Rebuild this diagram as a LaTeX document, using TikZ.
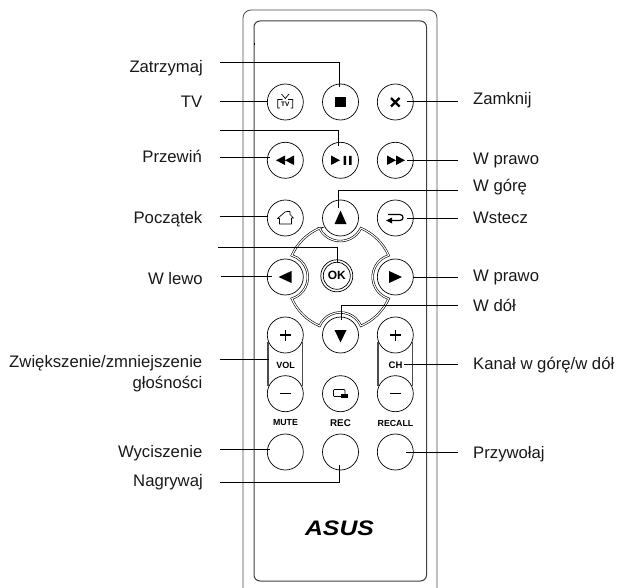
\documentclass[tikz,border=0pt]{standalone}
\usepackage{fontspec}
\setmainfont{Liberation Sans}
\usetikzlibrary{calc}
\tikzset{
  btn/.style={circle,draw=black,line width=.7pt,minimum size=36pt,inner sep=0pt,fill=white},
  lbl/.style={inner sep=0pt,font=\fontsize{16.7}{19}\selectfont,text=black!90},
  lleft/.style={lbl,anchor=base east},
  lright/.style={lbl,anchor=base west},
  lead/.style={draw=black,line width=.75pt},
  body/.style={draw=black!70,line width=.8pt},
  inn/.style={draw=black!75,line width=1pt},
  captxt/.style={inner sep=0pt,font=\bfseries\fontsize{8.8}{9}\selectfont},
  ico/.style={fill=black,draw=none},
  icol/.style={draw=black,line width=.7pt}
}
\begin{document}
\begin{tikzpicture}[x=1pt,y=-1pt]
\useasboundingbox (0,0) rectangle (618,588);
\fill[white] (0,0) rectangle (618,588);
% body
\draw[body,rounded corners=8pt] (243,600) -- (243,10) -- (437,10) -- (437,600);
\draw[inn,rounded corners=6pt] (254,21) rectangle (426.5,581);
\fill[black] (253.5,43.5) rectangle (255,45);
% d-pad
\begin{scope}[shift={(340.2,277)},y=1pt]
\draw[draw=black,line width=.6pt,double=white,double distance=1.1pt,fill=white]
 (-20.7,48.8) arc[start angle=206.2,end angle=333.8,radius=23.1]
 arc[start angle=67,end angle=24,radius=53]
 arc[start angle=107,end angle=253,radius=22.6]
 arc[start angle=-24,end angle=-67,radius=53]
 arc[start angle=24,end angle=156,radius=22.65]
 arc[start angle=-113,end angle=-156,radius=53]
 arc[start angle=-73,end angle=73,radius=22.6]
 arc[start angle=156,end angle=113,radius=53] -- cycle;
\end{scope}
% capsules
\draw[draw=black!70,line width=1.3pt] (268,342) -- (268,386) (302.6,342) -- (302.6,386);
\draw[draw=black!70,line width=1.3pt] (378,342) -- (378,386) (412.6,342) -- (412.6,386);
% buttons
\node[btn] (tv) at (285.3,102) {};
\node[btn] (stop) at (340.5,102) {};
\node[btn] (close) at (395.3,102) {};
\node[btn] (rew) at (285.3,160.3) {};
\node[btn] (play) at (340.5,160.3) {};
\node[btn] (ff) at (395.3,160.3) {};
\node[btn] (home) at (285.3,218) {};
\node[btn] (up) at (340.5,218) {};
\node[btn] (back) at (395.3,218) {};
\node[btn] (left) at (285.3,277) {};
\node[btn] (right) at (395.3,277) {};
\node[btn] (down) at (340.5,335) {};
\node[btn] (volp) at (285.3,335) {};
\node[btn] (volm) at (285.3,393.7) {};
\node[btn] (chp) at (395.3,335) {};
\node[btn] (chm) at (395.3,393.7) {};
\node[btn] (pip) at (340.5,393.7) {};
\node[btn] (mute) at (285.3,452) {};
\node[btn] (rec) at (340.5,452) {};
\node[btn] (recall) at (395.3,452) {};
\node[circle,draw=black,line width=.7pt,minimum size=32pt,inner sep=0pt,fill=white] (ok) at (336.8,275.8) {};
\node[circle,draw=black,line width=.7pt,minimum size=27pt,inner sep=0pt] at (ok) {};
% icons
\fill[ico] (335.2,96.7) rectangle (345.8,107.3);
\draw[line width=2.3pt] (391,98) -- (399.6,106.5) (399.6,98) -- (391,106.5);
% tv icon
\draw[icol,line width=.7pt] (280,99.5) -- (277.8,99.5) -- (277.8,108) -- (280,108)
  (290.6,99.5) -- (292.8,99.5) -- (292.8,108) -- (290.6,108)
  (280,99.5) -- (282.5,99.5) (288,99.5) -- (290.6,99.5)
  (281.5,94) -- (285.3,98.5) -- (289,94);
\node[inner sep=0pt,font=\bfseries\fontsize{6.5}{6.5}\selectfont] (tvtxt) at (285.3,104) {TV};
% rewind etc
\fill[ico] (276,160.3) -- (285,155.5) -- (285,165) -- cycle (285,160.3) -- (294,155.5) -- (294,165) -- cycle;
\fill[ico] (405,160.3) -- (396,155.5) -- (396,165) -- cycle (396,160.3) -- (387,155.5) -- (387,165) -- cycle;
\fill[ico] (331,155.5) -- (340,160.3) -- (331,165) -- cycle;
\fill[ico] (343.5,156) rectangle (346,165) (349,156) rectangle (351.5,165);
% home
\draw[icol,line join=round] (279.5,218.5) -- (279.5,224) -- (291.5,224) -- (291.5,218) -- (293.5,218) -- (290,214.5) -- (290,211.5) -- (287.5,211.5) -- (285,212) -- (277.5,218.5) -- cycle;
% return
\draw[icol,line width=1.2pt] (388,214.5) -- (400,214.5) .. controls (404,214.5) and (404,220.5) .. (400,220.5) -- (390,220.5);
\fill[ico] (386,220.5) -- (392,217.5) -- (392,223.5) -- cycle;
% triangles
\fill[ico] (340.5,210.5) -- (334.5,224) -- (346.5,224) -- cycle;
\fill[ico] (278.5,277) -- (291.5,271) -- (291.5,283) -- cycle;
\fill[ico] (402,277) -- (389,271) -- (389,283) -- cycle;
\fill[ico] (340.5,342.5) -- (334.5,330) -- (346.5,330) -- cycle;
\node[inner sep=0pt,font=\bfseries\fontsize{12}{12}\selectfont] (oktxt) at (ok) {OK};
% plus minus
\foreach \cx in {285.3,395.3}{
  \draw[line width=1.3pt] (\cx-5.5,335) -- (\cx+5.5,335) (\cx,329.5) -- (\cx,340.5);
  \draw[line width=1.3pt] (\cx-5.5,393.7) -- (\cx+5.5,393.7);
}
\node[captxt,font=\bfseries\fontsize{9}{9}\selectfont] (vol) at (285.5,365) {VOL};
\node[captxt,font=\bfseries\fontsize{9.5}{9}\selectfont] (ch) at (395.5,365) {CH};
% pip
\draw[icol,rounded corners=.8pt] (333.5,389.5) rectangle (345,396.5);
\fill[ico] (341,394.2) rectangle (348,398);
\node[captxt] (mutet) at (285.5,423) {MUTE};
\node[captxt,font=\bfseries\fontsize{9.8}{9}\selectfont] (rect) at (340.5,423) {REC};
\node[captxt] (recallt) at (395.5,423) {RECALL};
% logo
\node[inner sep=0pt,font=\bfseries\itshape\fontsize{21}{21}\selectfont,xscale=1.18] (asus) at (339.5,528.5) {ASUS};
% labels
\node[lleft] (lz) at (203,73) {Zatrzymaj};
\node[lleft] (ltv) at (202.5,108) {TV};
\node[lleft] (lp) at (202,163) {Przewiń};
\node[lleft] (lpo) at (202.5,223) {Początek};
\node[lleft] (ll) at (203,284) {W lewo};
\node[lleft] (lzw) at (202.5,367) {Zwiększenie/zmniejszenie};
\node[lleft] (lzw2) at (202.5,388) {głośności};
\node[lleft] (lw) at (202.5,457) {Wyciszenie};
\node[lleft] (ln) at (203,486) {Nagrywaj};
\node[lright] (rz) at (473,105) {Zamknij};
\node[lright] (rp) at (473,165) {W prawo};
\node[lright] (rg) at (473,192) {W górę};
\node[lright] (rw) at (473,223) {Wstecz};
\node[lright] (rp2) at (473,281) {W prawo};
\node[lright] (rd) at (473,311) {W dół};
\node[lright] (rk) at (473,369) {Kanał w górę/w dół};
\node[lright] (rpr) at (473,458) {Przywołaj};
% leaders
\coordinate (a1) at (219.5,62.3); \coordinate (b1) at (339.5,87);
\draw[lead] (a1) -- (a1-|b1) -- (b1);
\coordinate (a2) at (219.5,101.8); \coordinate (b2) at (268,101.8);
\draw[lead] (a2) -- (b2);
\coordinate (a3) at (219.5,130); \coordinate (b3) at (338.3,146.5);
\draw[lead] (a3) -- (a3-|b3) -- (b3);
\coordinate (a4) at (219.5,157); \coordinate (b4) at (270,157);
\draw[lead] (a4) -- (b4);
\coordinate (a5) at (219.5,216.5); \coordinate (b5) at (268,216.5);
\draw[lead] (a5) -- (b5);
\coordinate (a6) at (218,247.5); \coordinate (b6) at (337,263);
\draw[lead] (a6) -- (a6-|b6) -- (b6);
\coordinate (a7) at (220.5,276.8); \coordinate (b7) at (272,276.8);
\draw[lead] (a7) -- (b7);
\coordinate (a8) at (219.5,359.5); \coordinate (b8) at (269,359.5);
\draw[lead] (a8) -- (b8);
\coordinate (a9) at (219.5,449.5); \coordinate (b9) at (270,449.5);
\draw[lead] (a9) -- (b9);
\coordinate (a10) at (219.5,482.5); \coordinate (b10) at (339,465);
\draw[lead] (a10) -- (a10-|b10) -- (b10);
\coordinate (c1) at (458,101); \coordinate (d1) at (406.5,101);
\draw[lead] (c1) -- (d1);
\coordinate (c2) at (458,160.7); \coordinate (d2) at (406.5,160.7);
\draw[lead] (c2) -- (d2);
\coordinate (c3) at (458,190); \coordinate (d3) at (338.5,208);
\draw[lead] (c3) -- (c3-|d3) -- (d3);
\coordinate (c4) at (458,218.5); \coordinate (d4) at (406.5,218.5);
\draw[lead] (c4) -- (d4);
\coordinate (c5) at (458,277.5); \coordinate (d5) at (413,277.5);
\draw[lead] (c5) -- (d5);
\coordinate (c6) at (458,305.5); \coordinate (d6) at (341,320);
\draw[lead] (c6) -- (c6-|d6) -- (d6);
\coordinate (c7) at (458,364.5); \coordinate (d7) at (404,364.5);
\draw[lead] (c7) -- (d7);
\coordinate (c8) at (458,452.5); \coordinate (d8) at (406,452.5);
\draw[lead] (c8) -- (d8);
\end{tikzpicture}
\end{document}
